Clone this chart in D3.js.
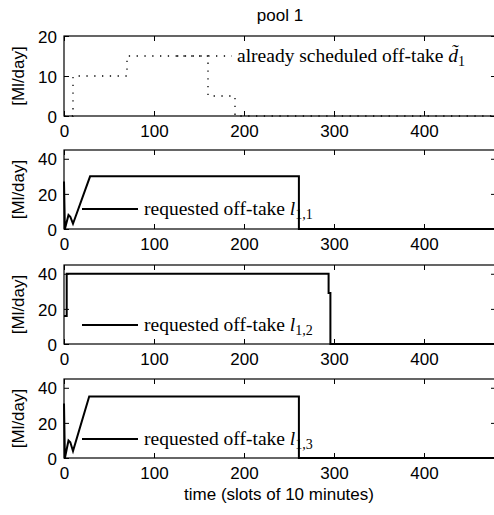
<!DOCTYPE html>
<html>
<head>
<meta charset="utf-8">
<script src="https://cdn.jsdelivr.net/npm/d3@7"></script>
<style>
  body { margin: 0; background: #fff; }
  text { fill: #000; }
</style>
</head>
<body>
<script>
// tick values
var timeTicks = [0, 100, 200, 300, 400];
var ticksPool = [0, 10, 20];
var ticksOfftake = [0, 20, 40];

// series: [time slot, Ml/day]
var scheduled = [[0, 0], [10, 0], [10, 10], [70, 10], [70, 15], [160, 15], [160, 5], [190, 5], [190, 0], [480, 0]];
var req11 = [[0, 27], [1, 0], [3, 4], [5, 8], [7, 7], [10, 3], [29, 30], [261, 30], [261, 0], [480, 0]];
var req12 = [[0, 16], [3, 16], [3, 40], [294, 40], [294, 29], [296, 29], [296, 0], [480, 0]];
var req13 = [[0, 31], [1, 0], [3, 5], [5, 10], [7, 9], [10, 4], [28, 35], [261, 35], [261, 0], [480, 0]];

var w = 494, h = 515;
var left = 64, right = 496;

var panels = [
  {top: 36, bottom: 116, ymax: 20, ticks: ticksPool, data: scheduled, dotted: true,
   legend: {x1: 177, x2: 232, y: 56, tx: 237, text: "already scheduled off-take ", sym: "d\u0303", sub: "1"}},
  {top: 150, bottom: 229, ymax: 45, ticks: ticksOfftake, data: req11,
   legend: {x1: 82, x2: 138, y: 209, tx: 144, text: "requested off-take ", sym: "l", sub: "1,1"}},
  {top: 265, bottom: 344, ymax: 45, ticks: ticksOfftake, data: req12,
   legend: {x1: 82, x2: 138, y: 325, tx: 144, text: "requested off-take ", sym: "l", sub: "1,2"}},
  {top: 379, bottom: 458, ymax: 45, ticks: ticksOfftake, data: req13,
   legend: {x1: 82, x2: 138, y: 439, tx: 144, text: "requested off-take ", sym: "l", sub: "1,3"}}
];

var svg = d3.select("body").append("svg")
    .attr("width", w)
    .attr("height", h);

var x = d3.scaleLinear().domain([0, 480]).range([left, right]);

var sans = "'Liberation Sans', Arial, sans-serif";
var serif = "'Liberation Serif', 'Times New Roman', serif";
var fs = "17px";

svg.append("text")
    .attr("x", (left + right) / 2)
    .attr("y", 21)
    .attr("text-anchor", "middle")
    .style("font-family", sans)
    .style("font-size", fs)
    .text("pool 1");

panels.forEach(function(p) {
  var y = d3.scaleLinear().domain([0, p.ymax]).range([p.bottom, p.top]);
  var g = svg.append("g");

  // data line
  var line = d3.line().x(function(d) { return x(d[0]); }).y(function(d) { return y(d[1]); });
  g.append("path")
      .datum(p.data)
      .attr("d", line)
      .attr("fill", "none")
      .attr("stroke", "#000")
      .attr("stroke-width", p.dotted ? 1.3 : 2)
      .attr("stroke-dasharray", p.dotted ? "1.3,6.5" : null);

  // axes
  var xb = g.append("g").attr("transform", "translate(0," + p.bottom + ")")
      .call(d3.axisBottom(x).tickValues(timeTicks).tickSizeInner(-5).tickSizeOuter(0).tickPadding(7));
  var xt = g.append("g").attr("transform", "translate(0," + p.top + ")")
      .call(d3.axisTop(x).tickValues(timeTicks).tickSizeInner(-5).tickSizeOuter(0).tickFormat(""));
  var yl = g.append("g").attr("transform", "translate(" + left + ",0)")
      .call(d3.axisLeft(y).tickValues(p.ticks).tickSizeInner(-5).tickSizeOuter(0).tickPadding(7));
  var yr = g.append("g").attr("transform", "translate(" + right + ",0)")
      .call(d3.axisRight(y).tickValues(p.ticks).tickSizeInner(-5).tickSizeOuter(0).tickFormat(""));
  [xb, xt, yl, yr].forEach(function(a) {
    a.select(".domain").remove();
    a.selectAll("line").attr("stroke", "#000");
    a.selectAll("text").style("font-family", sans).style("font-size", fs).attr("fill", "#000");
  });
  xb.selectAll("text").attr("dy", "14px");
  yl.selectAll("text").attr("dy", "0.36em");

  g.append("rect")
      .attr("x", left).attr("y", p.top)
      .attr("width", right - left).attr("height", p.bottom - p.top)
      .attr("fill", "none").attr("stroke", "#000").attr("stroke-width", 1.2);

  // y label
  g.append("text")
      .attr("transform", "translate(24," + (p.top + p.bottom) / 2 + ") rotate(-90)")
      .attr("text-anchor", "middle")
      .style("font-family", sans)
      .style("font-size", fs)
      .text("[Ml/day]");

  // legend
  var L = p.legend;
  g.append("line")
      .attr("x1", L.x1).attr("x2", L.x2).attr("y1", L.y).attr("y2", L.y)
      .attr("stroke", "#000")
      .attr("stroke-width", p.dotted ? 1.3 : 2)
      .attr("stroke-dasharray", p.dotted ? "1.3,6.5" : null);
  var t = g.append("text")
      .attr("x", L.tx).attr("y", L.y + 6)
      .style("font-family", serif)
      .style("font-size", "19.5px")
      .attr("fill", "#333");
  t.append("tspan").text(L.text);
  t.append("tspan").style("font-style", "italic").text(L.sym);
  t.append("tspan").attr("dy", 4).style("font-size", "14px").text(L.sub);
});

svg.append("text")
    .attr("x", (left + right) / 2 - 1)
    .attr("y", 500)
    .attr("text-anchor", "middle")
    .style("font-family", sans)
    .style("font-size", fs)
    .text("time (slots of 10 minutes)");
</script>
</body>
</html>
